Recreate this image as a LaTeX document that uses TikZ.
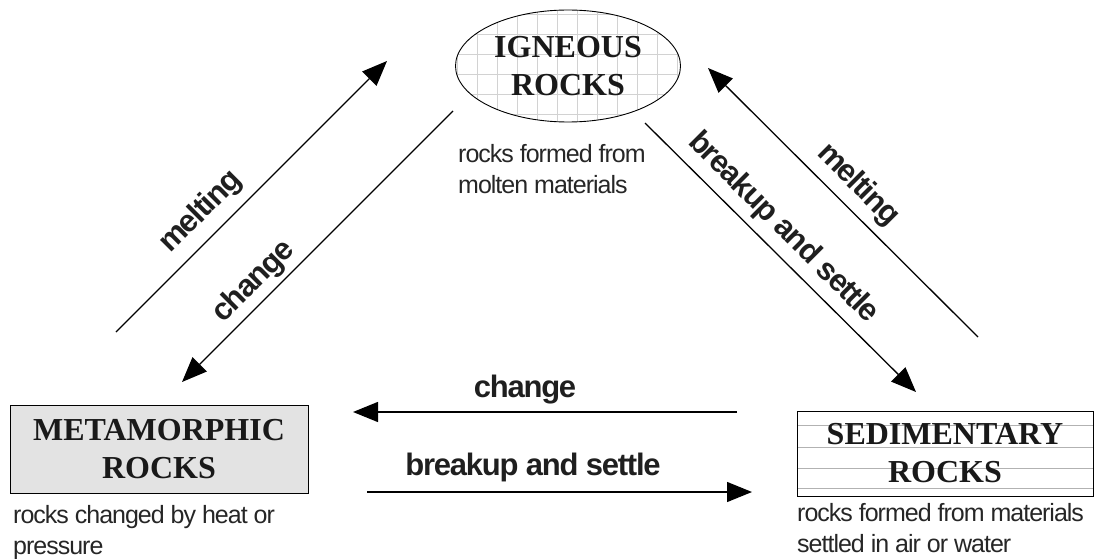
\documentclass[tikz,border=0pt]{standalone}
\usepackage{fontspec}
\setmainfont{Liberation Serif}
\newfontfamily\sansf{Liberation Sans}
\newfontfamily\sanstight[LetterSpace=-4]{Liberation Sans}
\usetikzlibrary{arrows.meta,shapes.geometric}
\begin{document}
\begin{tikzpicture}[x=1pt,y=-1pt,
  title/.style={font=\fontsize{32}{38}\selectfont\bfseries, align=center, text=black!90},
  desc/.style={font=\sanstight\fontsize{25}{31}\selectfont, align=left, anchor=north west, inner sep=0pt, text=black!85},
  lab/.style={font=\sanstight\bfseries\fontsize{31}{33}\selectfont, inner sep=0pt, text=black!88},
  arr/.style={line width=1.3pt, -{Triangle[length=25pt,width=20pt]}},
  gridline/.style={gray!35, line width=1pt},
  sedline/.style={gray!60, line width=1pt},
]
\useasboundingbox (0,0) rectangle (1095,559);

% igneous grid
\begin{scope}
  \clip (568,66) ellipse [x radius=112.5, y radius=56];
  \foreach \x in {457,477,...,697} \draw[gridline] (\x,0) -- (\x,130);
  \foreach \y in {15,35,...,135} \draw[gridline] (440,\y) -- (700,\y);
\end{scope}
\node[ellipse, draw, line width=0.9pt, minimum width=225pt, minimum height=112pt, inner sep=0pt, title] (ign) at (568,66) {IGNEOUS\\ROCKS};

% metamorphic
\node[draw, fill=gray!22, line width=0.9pt, minimum width=298pt, minimum height=88pt, inner sep=0pt, title] (met) at (159,449) {METAMORPHIC\\ROCKS};

% sedimentary
\foreach \y in {425,447,468,488} \draw[sedline] (797,\y) -- (1093,\y);
\node[draw, line width=0.9pt, minimum width=296pt, minimum height=85pt, inner sep=0pt, title] (sed) at (945,453.5) {SEDIMENTARY\\ROCKS};

% descriptions
\node[desc] (igd) at (458,144) {rocks formed from\\molten materials};
\node[desc] (metd) at (13,505) {rocks changed by heat or\\pressure};
\node[desc] (sedd) at (797,503) {rocks formed from materials\\settled in air or water};

% arrow end points
\coordinate (m1s) at (116,332);  \coordinate (m1e) at (387,61);
\coordinate (c1s) at (453,111);  \coordinate (c1e) at (182,382);
\coordinate (m2s) at (978,337);  \coordinate (m2e) at (708,68);
\coordinate (b1s) at (645,123);  \coordinate (b1e) at (916,392);
\coordinate (c2s) at (737,412);  \coordinate (c2e) at (353,412);
\coordinate (b2s) at (367,492);  \coordinate (b2e) at (752,492);

\draw[arr] (m1s) -- (m1e);
\draw[arr] (c1s) -- (c1e);
\draw[arr] (m2s) -- (m2e);
\draw[arr] (b1s) -- (b1e);
\draw[arr] (c2s) -- (c2e);
\draw[arr] (b2s) -- (b2e);

% labels
\node[lab, rotate=45] (lm1) at (201,212) {melting};
\node[lab, rotate=45] (lc1) at (254,282) {change};
\node[lab, rotate=-45] (lm2) at (858,185) {melting};
\node[lab, rotate=-45] (lb1) at (783,228) {breakup and settle};
\node[lab] (lc2) at (525,390) {change};
\node[lab] (lb2) at (533,467) {breakup and settle};
\end{tikzpicture}
\end{document}
